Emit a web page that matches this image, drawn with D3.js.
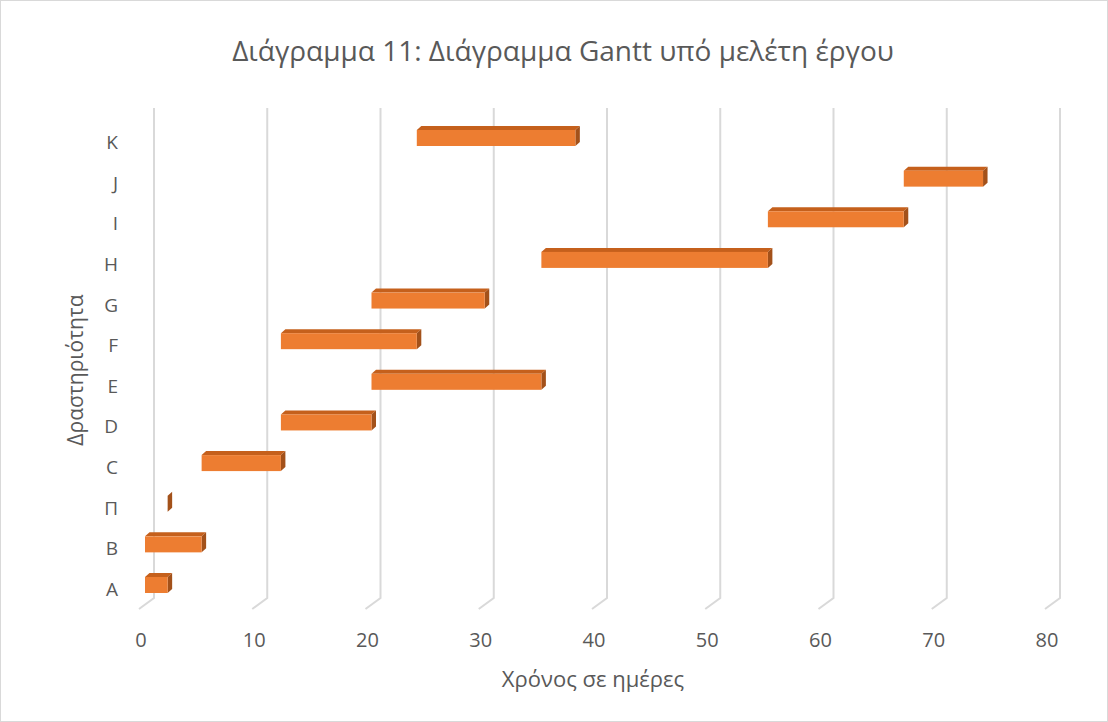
<!DOCTYPE html>
<html>
<head>
<meta charset="utf-8">
<script src="https://cdn.jsdelivr.net/npm/d3@7"></script>
<style>
  body { margin: 0; background: #fff; }
  svg text { font-family: "Open Sans", "Noto Sans", sans-serif; fill: #595959; }
</style>
</head>
<body>
<div id="chart"></div>
<script>
// activities (bottom to top), start day and duration
const activities = ["A", "B", "Π", "C", "D", "E", "F", "G", "H", "I", "J", "K"];
const starts =     [0, 0, 2, 5, 12, 20, 12, 20, 35, 55, 67, 24];
const durations =  [2, 5, 0, 7, 8, 15, 12, 10, 20, 12, 7, 14];
const xTicks = [0, 10, 20, 30, 40, 50, 60, 70, 80];

const width = 1108, height = 722;

const svg = d3.select("#chart").append("svg")
    .attr("width", width)
    .attr("height", height);

// cadre
svg.append("rect")
    .attr("x", 0.5).attr("y", 0.5)
    .attr("width", width - 1).attr("height", height - 1)
    .attr("fill", "#fff").attr("stroke", "#d9d9d9");

// échelles : plan avant (sol) et décalage 3D
const x = d3.scaleLinear().domain([0, 80]).range([139, 1045]);
const y = d3.scalePoint().domain(activities).range([589, 142]);
const back = {dx: 15, dy: -11};   // décalage du plan arrière
const bar = {off: 6, dx: 4.5, dy: -4, top: -12, bottom: 4};

// grille verticale avec pied en biais
const grid = svg.append("g");
xTicks.forEach(t => {
  const xf = x(t), xb = x(t) + back.dx;
  grid.append("path")
      .attr("d", `M${xf},609 L${xb},${609 + back.dy} L${xb},108`)
      .attr("fill", "none")
      .attr("stroke", "#d9d9d9")
      .attr("stroke-width", 2);
});

// barres 3D
const bars = svg.append("g");
activities.forEach((a, i) => {
  const x0 = x(starts[i]) + bar.off;
  const x1 = x(starts[i] + durations[i]) + bar.off;
  const y0 = y(a) + bar.top, y1 = y(a) + bar.bottom;
  // dessus
  bars.append("path")
      .attr("d", `M${x0},${y0} L${x0 + bar.dx},${y0 + bar.dy} L${x1 + bar.dx},${y0 + bar.dy} L${x1},${y0} Z`)
      .attr("fill", "#c5601c");
  // côté
  bars.append("path")
      .attr("d", `M${x1},${y0} L${x1 + bar.dx},${y0 + bar.dy} L${x1 + bar.dx},${y1 + bar.dy} L${x1},${y1} Z`)
      .attr("fill", "#a3511a");
  // face
  if (x1 > x0) {
    bars.append("rect")
        .attr("x", x0).attr("y", y0)
        .attr("width", x1 - x0).attr("height", y1 - y0)
        .attr("fill", "#ed7d31");
  }
});

// étiquettes des axes
svg.append("g").selectAll("text")
  .data(xTicks)
  .join("text")
    .attr("x", d => x(d) + 2)
    .attr("y", 647)
    .attr("text-anchor", "middle")
    .style("font-size", "20px")
    .text(d => d);

svg.append("g").selectAll("text")
  .data(activities)
  .join("text")
    .attr("x", 118)
    .attr("y", d => y(d) + 7)
    .attr("text-anchor", "end")
    .style("font-size", "19px")
    .text(d => d);

// titres
svg.append("text")
    .attr("x", 563).attr("y", 61)
    .attr("text-anchor", "middle")
    .style("font-size", "28px")
    .text("Διάγραμμα 11: Διάγραμμα Gantt υπό μελέτη έργου");

svg.append("text")
    .attr("x", 593).attr("y", 687)
    .attr("text-anchor", "middle")
    .style("font-size", "22px")
    .text("Χρόνος σε ημέρες");

svg.append("text")
    .attr("transform", "translate(83,370) rotate(-90)")
    .attr("text-anchor", "middle")
    .style("font-size", "21px")
    .text("Δραστηριότητα");
</script>
</body>
</html>
